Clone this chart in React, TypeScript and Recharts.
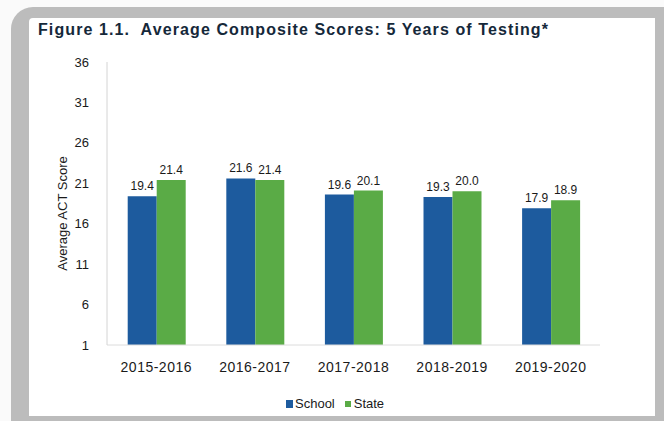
import { BarChart, Bar, XAxis, YAxis, LabelList } from 'recharts';

const years = ['2015-2016', '2016-2017', '2017-2018', '2018-2019', '2019-2020'];
const schoolScores = [19.4, 21.6, 19.6, 19.3, 17.9];
const stateScores = [21.4, 21.4, 20.1, 20.0, 18.9];
const yTicks = [1, 6, 11, 16, 21, 26, 31, 36];

const SCHOOL = '#1d5b9e';
const STATE = '#5aab46';
const FONT = '"Liberation Sans", Arial, sans-serif';

const data = years.map((year, i) => ({
  year,
  School: schoolScores[i],
  State: stateScores[i],
}));

export default function App() {
  return (
    <div style={{ position: 'fixed', left: 0, top: 0, width: 664, height: 421, background: '#fafafa', fontFamily: FONT, overflow: 'hidden' }}>
      {/* scanned frame */}
      <div style={{ position: 'absolute', left: 11, top: 7, width: 680, height: 440, background: '#bcbcbc', borderTopLeftRadius: 22 }} />
      <div style={{ position: 'absolute', left: 29, top: 18, width: 626, height: 398, background: '#fff', borderTopLeftRadius: 4 }} />

      <div style={{ position: 'absolute', left: 38, top: 21, fontSize: 16, fontWeight: 'bold', letterSpacing: 1.1, color: '#15283a', whiteSpace: 'pre' }}>
        {'Figure 1.1.  Average Composite Scores: 5 Years of Testing*'}
      </div>

      <div style={{ position: 'absolute', left: 0, top: 0 }}>
        <BarChart
          width={664}
          height={421}
          data={data}
          margin={{ top: 62, right: 64, bottom: 46, left: 47 }}
          barGap={0}
          barCategoryGap="21%"
        >
          <XAxis
            dataKey="year"
            height={30}
            tickSize={0}
            tickMargin={17}
            axisLine={{ stroke: '#dcdcdc' }}
            tick={{ fill: '#1a1a1a', fontSize: 14, fontFamily: FONT, letterSpacing: 0.5 }}
          />
          <YAxis
            domain={[1, 36]}
            ticks={yTicks}
            width={60}
            tickSize={0}
            tickMargin={18}
            axisLine={{ stroke: '#d4d4d4' }}
            tick={{ fill: '#1a1a1a', fontSize: 13, fontFamily: FONT }}
            allowDataOverflow
            label={{ value: 'Average ACT Score', angle: -90, position: 'insideLeft', offset: 15, dy: 10, style: { fill: '#1a1a1a', fontSize: 13, fontFamily: FONT, textAnchor: 'middle' } }}
          />
          <Bar dataKey="School" fill={SCHOOL} isAnimationActive={false}>
            <LabelList dataKey="School" position="top" offset={6} formatter={(v: any) => Number(v).toFixed(1)} style={{ fill: '#1a1a1a', fontSize: 12, fontFamily: FONT }} />
          </Bar>
          <Bar dataKey="State" fill={STATE} isAnimationActive={false}>
            <LabelList dataKey="State" position="top" offset={6} formatter={(v: any) => Number(v).toFixed(1)} style={{ fill: '#1a1a1a', fontSize: 12, fontFamily: FONT }} />
          </Bar>
        </BarChart>
      </div>

      <div style={{ position: 'absolute', left: 286, top: 396, display: 'flex', alignItems: 'center', fontSize: 13, color: '#1a1a1a' }}>
        <span style={{ display: 'inline-block', width: 7, height: 8, background: SCHOOL, marginRight: 2 }} />
        <span>School</span>
        <span style={{ display: 'inline-block', width: 6, height: 6, background: STATE, marginLeft: 10, marginRight: 3 }} />
        <span>State</span>
      </div>
    </div>
  );
}
